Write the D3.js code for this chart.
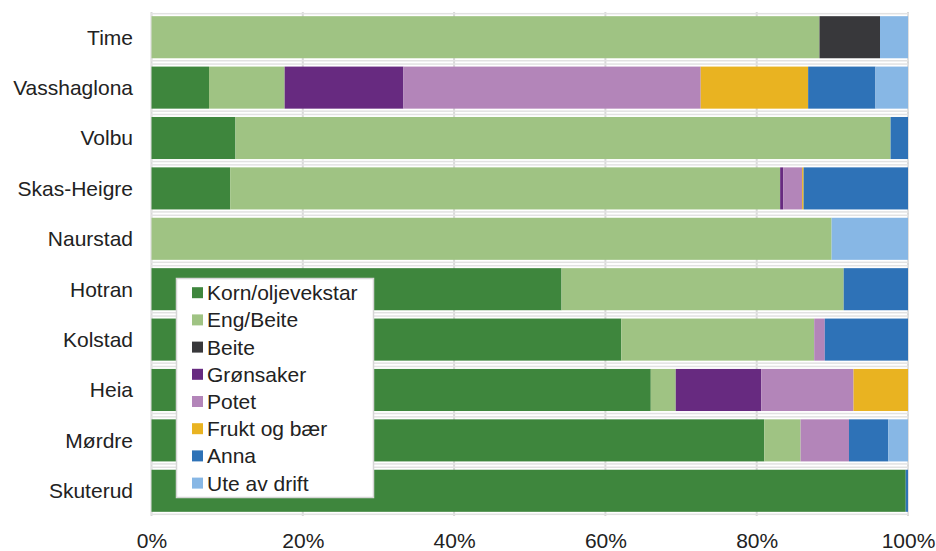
<!DOCTYPE html>
<html>
<head>
<meta charset="utf-8">
<script src="https://cdn.jsdelivr.net/npm/d3@7"></script>
<style>
  html, body { margin: 0; padding: 0; background: #fff; }
  svg { display: block; font-family: "Liberation Sans", Arial, sans-serif; }
</style>
</head>
<body>
<svg id="chart" width="936" height="551"></svg>
<script>
// Land use share per farm (percent of area), top to bottom
const categories = ["Time", "Vasshaglona", "Volbu", "Skas-Heigre", "Naurstad", "Hotran", "Kolstad", "Heia", "Mørdre", "Skuterud"];

const korn   = [0,    7.6, 11.1, 10.4, 0,    54.2, 62.1, 66.0, 81.0, 99.7];
const eng    = [88.3, 10.0, 86.6, 72.7, 89.9, 37.3, 25.5, 3.3,  4.8,  0];
const beite  = [8.0,  0,    0,    0,    0,    0,    0,    0,    0,    0];
const gronn  = [0,    15.7, 0,    0.4,  0,    0,    0,    11.3, 0,    0];
const potet  = [0,    39.3, 0,    2.5,  0,    0,    1.4,  12.2, 6.4,  0];
const frukt  = [0,    14.2, 0,    0.2,  0,    0,    0,    7.2,  0,    0];
const anna   = [0,    8.9,  2.3,  13.8, 0,    8.5,  11.0, 0,    5.2,  0.3];
const ute    = [3.7,  4.3,  0,    0,    10.1, 0,    0,    0,    2.6,  0];

const seriesNames  = ["Korn/oljevekstar", "Eng/Beite", "Beite", "Grønsaker", "Potet", "Frukt og bær", "Anna", "Ute av drift"];
const seriesValues = [korn, eng, beite, gronn, potet, frukt, anna, ute];
const seriesColors = ["#3e863d", "#9fc383", "#38383b", "#672a80", "#b385b9", "#e9b321", "#2e72b7", "#87b7e5"];

const tickValues = [0, 20, 40, 60, 80, 100];

// Table rows for d3.stack
const rows = categories.map((c, i) => {
  const r = { name: c };
  seriesNames.forEach((s, j) => { r[s] = seriesValues[j][i]; });
  return r;
});

const svg = d3.select("#chart");
const margin = { left: 151.5, right: 28, top: 12, bottom: 35 };
const W = 936, H = 551;

const x = d3.scaleLinear().domain([0, 100]).range([margin.left, W - margin.right]);
const y = d3.scaleBand().domain(categories).range([margin.top, H - margin.bottom])
  .paddingInner(0.165).paddingOuter(0.083);

// Vertical gridlines
svg.append("g").selectAll("line").data(tickValues).join("line")
  .attr("x1", d => x(d)).attr("x2", d => x(d))
  .attr("y1", margin.top).attr("y2", H - margin.bottom)
  .attr("stroke", "#d9d9d9").attr("stroke-width", 2);

// Faint frame round each row
svg.append("g").selectAll("rect").data(categories).join("rect")
  .attr("x", x(0)).attr("width", x(100) - x(0))
  .attr("y", d => y(d) - 2.5).attr("height", y.bandwidth() + 5)
  .attr("fill", "none").attr("stroke", "#e2e2e2").attr("stroke-width", 1.5);

// Stacked bars
const stacked = d3.stack().keys(seriesNames)(rows);
svg.append("g").selectAll("g").data(stacked).join("g")
  .attr("fill", (d, i) => seriesColors[i])
  .selectAll("rect").data(d => d).join("rect")
  .attr("x", d => x(d[0]))
  .attr("width", d => Math.max(0, x(d[1]) - x(d[0])))
  .attr("y", d => y(d.data.name))
  .attr("height", y.bandwidth());

// Category axis labels
svg.append("g").selectAll("text").data(categories).join("text")
  .attr("x", 133).attr("y", d => y(d) + y.bandwidth() / 2)
  .attr("dy", "0.35em").attr("text-anchor", "end")
  .attr("font-size", 21).attr("fill", "#222")
  .text(d => d);

// Percent axis
const xAxis = d3.axisBottom(x).tickValues(tickValues).tickFormat(d => d + "%").tickSize(0).tickPadding(0);
const gx = svg.append("g").attr("transform", `translate(0,${H - margin.bottom})`).call(xAxis);
gx.select(".domain").remove();
gx.selectAll("text").attr("y", 32).attr("dy", 0)
  .attr("font-size", 21).attr("fill", "#222")
  .attr("font-family", "'Liberation Sans', Arial, sans-serif");

// Legend
const lg = svg.append("g");
lg.append("rect").attr("x", 176.5).attr("y", 278.5).attr("width", 197).attr("height", 219)
  .attr("fill", "#fff").attr("stroke", "#d6d6d6").attr("stroke-width", 1.5);
const items = lg.selectAll("g").data(seriesNames).join("g")
  .attr("transform", (d, i) => `translate(192,${292.7 + i * 27.2})`);
items.append("rect").attr("x", 0).attr("y", -5.5).attr("width", 11).attr("height", 11)
  .attr("fill", (d, i) => seriesColors[i]);
items.append("text").attr("x", 15).attr("dy", "0.36em")
  .attr("font-size", 21).attr("fill", "#222").text(d => d);
</script>
</body>
</html>
